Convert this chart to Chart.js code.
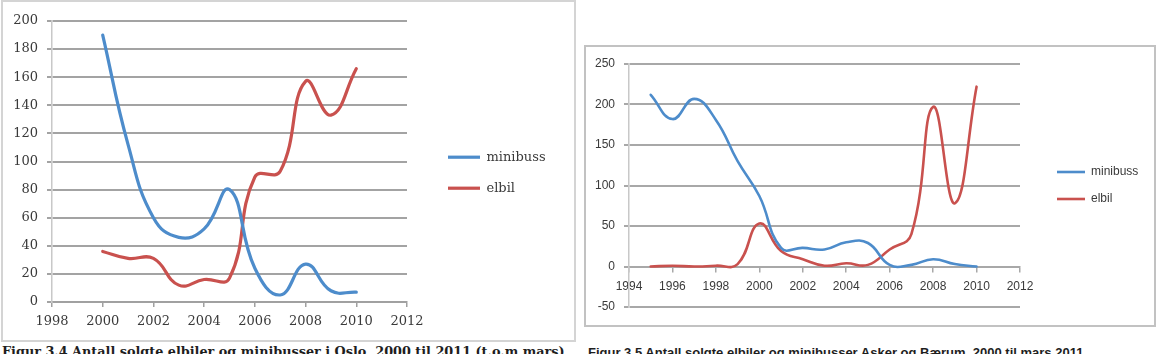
<!DOCTYPE html>
<html>
<head>
<meta charset="utf-8">
<script src="https://cdn.jsdelivr.net/npm/chart.js@4.4.1/dist/chart.umd.min.js"></script>
<style>
  body { margin: 0; width: 1159px; height: 354px; overflow: hidden; background: #fff; position: relative; }
  .box { position: absolute; box-sizing: border-box; border: 2px solid #d4d4d4; background: #fff; }
  .box canvas { display: block; }
  #boxOslo { left: 1px; top: 0; width: 575px; height: 342px; }
  #boxAsker { left: 584px; top: 45px; width: 572px; height: 282px; border-color: #c2c2c2; }
  .cap { position: absolute; white-space: nowrap; color: #1e1e1e; line-height: 16px; }
  #capOslo { left: 2px; top: 344px; font-family: "DejaVu Serif", serif; font-weight: bold; font-size: 12.8px; }
  #capAsker { left: 588px; top: 345px; font-family: "Liberation Sans", sans-serif; font-weight: bold; font-size: 13px; }
</style>
</head>
<body>
<div class="box" id="boxOslo"><canvas id="oslo" width="571" height="338"></canvas></div>
<div class="box" id="boxAsker"><canvas id="asker" width="568" height="278"></canvas></div>
<div class="cap" id="capOslo">Figur 3.4 Antall solgte elbiler og minibusser i Oslo, 2000 til 2011 (t.o.m mars)</div>
<div class="cap" id="capAsker">Figur 3.5 Antall solgte elbiler og minibusser Asker og Bærum, 2000 til mars 2011</div>
<script>
// Oslo, 2000-2010
const osloYears = [2000, 2001, 2002, 2003, 2004, 2005, 2006, 2007, 2008, 2009, 2010];
const osloMinibuss = [190, 112, 60, 46, 52, 80, 24, 5, 27, 8, 7];
const osloElbil = [36, 31, 31, 12, 16, 17, 89, 93, 157, 133, 166];
const osloXTicks = [1998, 2000, 2002, 2004, 2006, 2008, 2010, 2012];
const osloYTicks = [0, 20, 40, 60, 80, 100, 120, 140, 160, 180, 200];

// Asker og Bærum, 1995-2010
const askerYears = [1995, 1996, 1997, 1998, 1999, 2000, 2001, 2002, 2003, 2004, 2005, 2006, 2007, 2008, 2009, 2010];
const askerMinibuss = [212, 182, 207, 181, 130, 87, 23, 23, 21, 30, 29, 2, 2, 9, 3, 0];
const askerElbil = [0, 1, 0, 1, 3, 53, 19, 9, 1, 4, 2, 21, 40, 197, 78, 222];
const askerXTicks = [1994, 1996, 1998, 2000, 2002, 2004, 2006, 2008, 2010, 2012];
const askerYTicks = [-50, 0, 50, 100, 150, 200, 250];

const BLUE = '#4d8ccb';
const RED = '#c9514e';

function pts(xs, ys) {
  return xs.map((x, i) => ({ x: x, y: ys[i] }));
}

function series(label, data, color, width) {
  return {
    label: label,
    data: data,
    borderColor: color,
    backgroundColor: color,
    borderWidth: width,
    borderCapStyle: 'round',
    borderJoinStyle: 'round',
    pointRadius: 0,
    tension: 0.45,
    xAxisID: 'x',
    yAxisID: 'y',
  };
}

// gives the right-hand legend a fixed width so the plot edge stays put
function legendSlot(width) {
  return {
    id: 'legendSlot',
    beforeInit(chart) {
      const lg = chart.legend;
      const fit = lg.fit;
      lg.fit = function () { fit.call(this); this.width = width; };
    },
  };
}

const setTicks = (list) => (s) => { s.ticks = list.map(v => ({ value: v })); };

// Figur 3.4 - Oslo
const serif = { family: 'DejaVu Serif', size: 13 };
new Chart(document.getElementById('oslo'), {
  type: 'line',
  data: {
    datasets: [
      series('minibuss', pts(osloYears, osloMinibuss), BLUE, 3.2),
      series('elbil', pts(osloYears, osloElbil), RED, 3.2),
    ],
  },
  options: {
    responsive: false,
    animation: false,
    layout: { padding: { top: 19, right: 0, bottom: 0, left: 0 } },
    plugins: {
      tooltip: { enabled: false },
      legend: {
        position: 'right',
        fullSize: false,
        title: { display: true, text: ' ', padding: { top: 4, bottom: 4 }, font: { size: 12 } },
        labels: {
          usePointStyle: true, pointStyle: 'line', pointStyleWidth: 32,
          padding: 18, color: '#3a3a3a', font: serif,
        },
      },
    },
    scales: {
      x: {
        type: 'linear', min: 1998, max: 2012,
        afterBuildTicks: setTicks(osloXTicks),
        afterFit: (s) => { s.height = 38; },
        grid: { drawOnChartArea: false, tickLength: 5, color: '#a0a0a0', lineWidth: 1.5 },
        border: { color: '#a0a0a0', width: 1.5 },
        ticks: { padding: 7, color: '#3a3a3a', font: serif, maxRotation: 0, callback: (v) => String(v) },
      },
      y: {
        min: 0, max: 200,
        afterBuildTicks: setTicks(osloYTicks),
        afterFit: (s) => { s.width = 49; },
        grid: { tickLength: 5, color: '#a3a3a3', lineWidth: 2 },
        border: { color: '#c8c8c8', width: 1.5 },
        ticks: { padding: 9, color: '#3a3a3a', font: serif, callback: (v) => String(v) },
      },
      gap: {
        type: 'linear', position: 'right', display: true,
        afterFit: (s) => { s.width = 23; },
        ticks: { display: false }, grid: { display: false }, border: { display: false },
      },
    },
  },
  plugins: [legendSlot(144)],
});

// Figur 3.5 - Asker og Bærum
const sans = { family: 'Liberation Sans', size: 12 };
new Chart(document.getElementById('asker'), {
  type: 'line',
  data: {
    datasets: [
      series('minibuss', pts(askerYears, askerMinibuss), BLUE, 2.6),
      series('elbil', pts(askerYears, askerElbil), RED, 2.6),
    ],
  },
  options: {
    responsive: false,
    animation: false,
    layout: { padding: { top: 17, right: 0, bottom: 18, left: 0 } },
    plugins: {
      tooltip: { enabled: false },
      legend: {
        position: 'right',
        fullSize: false,
        labels: {
          usePointStyle: true, pointStyle: 'line', pointStyleWidth: 28,
          padding: 15, color: '#3a3a3a', font: sans,
        },
      },
    },
    scales: {
      x: {
        type: 'linear', min: 1994, max: 2012,
        position: { y: 0 },
        afterBuildTicks: setTicks(askerXTicks),
        grid: { drawOnChartArea: false, tickLength: 5, color: '#a8a8a8', lineWidth: 1.5 },
        border: { color: '#a8a8a8', width: 1.5 },
        ticks: { padding: 8, color: '#3a3a3a', font: sans, maxRotation: 0, callback: (v) => String(v) },
      },
      y: {
        min: -50, max: 250,
        afterBuildTicks: setTicks(askerYTicks),
        afterFit: (s) => { s.width = 43; },
        grid: { tickLength: 5, color: '#a8a8a8', lineWidth: 2 },
        border: { color: '#c8c8c8', width: 1.5 },
        ticks: { padding: 9, color: '#3a3a3a', font: sans, callback: (v) => String(v) },
      },
      gap: {
        type: 'linear', position: 'right', display: true,
        afterFit: (s) => { s.width = 22; },
        ticks: { display: false }, grid: { display: false }, border: { display: false },
      },
    },
  },
  plugins: [legendSlot(112)],
});
</script>
</body>
</html>
